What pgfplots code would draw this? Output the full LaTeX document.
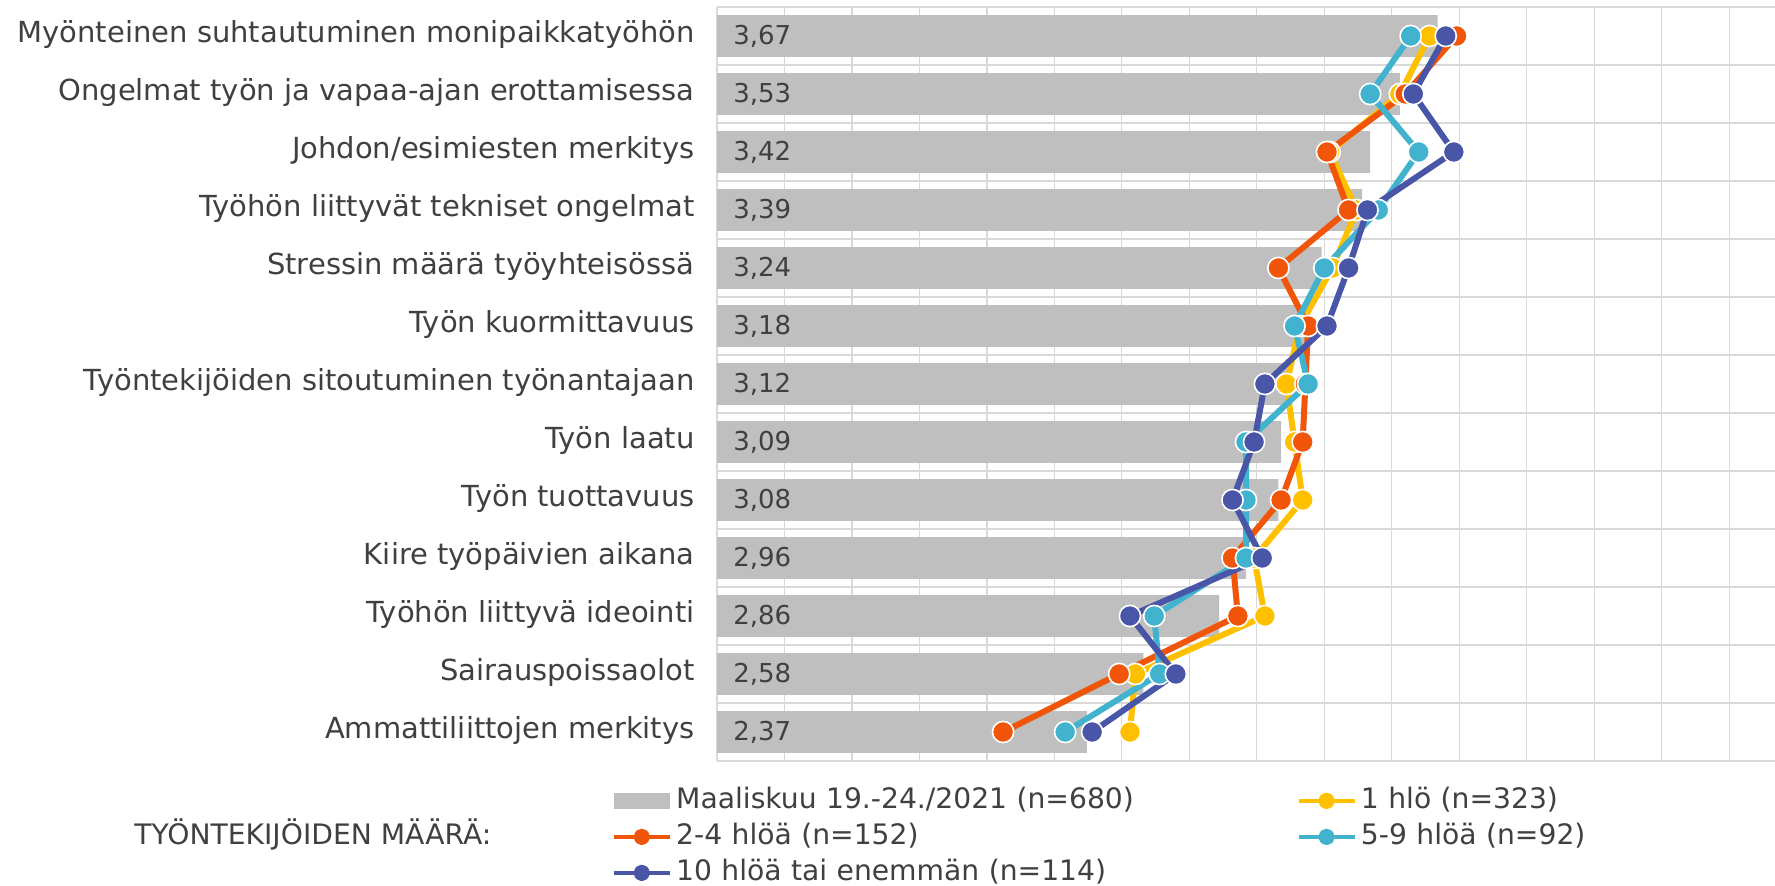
\documentclass[border=0pt]{standalone}
\usepackage{pgfplots}
\pgfplotsset{compat=1.18}
\usepackage{pgfplotstable}
\usepackage{fontspec}
\setmainfont{DejaVu Sans}
\definecolor{cYel}{HTML}{FFC000}
\definecolor{cOra}{HTML}{F0550A}
\definecolor{cCya}{HTML}{41B3CE}
\definecolor{cBlu}{HTML}{4955A7}
\definecolor{cBar}{HTML}{BFBFBF}
\definecolor{cTxt}{HTML}{404040}
\definecolor{cGrid}{HTML}{D9D9D9}

\pgfplotstableread{
y lx val yel ora cya blu
13 1 3.67 3.64 3.74 3.57 3.70
12 1 3.53 3.53 3.55 3.42 3.58
11 1 3.42 3.27 3.26 3.60 3.73
10 1 3.39 3.37 3.34 3.45 3.41
9 1 3.24 3.28 3.08 3.25 3.34
8 1 3.18 3.16 3.19 3.14 3.26
7 1 3.12 3.11 3.18 3.19 3.03
6 1 3.09 3.14 3.17 2.96 2.99
5 1 3.08 3.17 3.09 2.96 2.91
4 1 2.96 2.99 2.91 2.96 3.02
3 1 2.86 3.03 2.93 2.62 2.53
2 1 2.58 2.55 2.49 2.64 2.70
1 1 2.37 2.53 2.06 2.29 2.39
}\data

\pgfplotsset{
  linekey/.style={legend image code/.code={%
    \draw[#1, line width=2.4pt] (0pt,0pt) -- (28pt,0pt);
    \fill[#1] (14pt,0pt) circle (2.6pt);}},
  lineplot/.style={#1, line width=3pt, line join=round, mark=*, mark size=5.3pt,
    mark options={fill=#1, draw=white, line width=0.8pt}, linekey=#1},
}

\begin{document}
\begin{tikzpicture}
\useasboundingbox (0,0) rectangle (887.5pt,443pt);
\begin{axis}[
  at={(358.5pt,62.5pt)}, anchor=south west,
  scale only axis, width=529pt, height=377pt,
  xmin=1, xmax=4.92, ymin=0.5, ymax=13.5,
  xtick={1,1.25,...,4.8}, xticklabels={}, xmajorgrids,
  ytick={1,...,13},
  yticklabels={Ammattiliittojen merkitys, Sairauspoissaolot, Työhön liittyvä ideointi, Kiire työpäivien aikana, Työn tuottavuus, Työn laatu, Työntekijöiden sitoutuminen työnantajaan, Työn kuormittavuus, Stressin määrä työyhteisössä, Työhön liittyvät tekniset ongelmat, Johdon/esimiesten merkitys, Ongelmat työn ja vapaa-ajan erottamisessa, Myönteinen suhtautuminen monipaikkatyöhön},
  minor ytick={0.5,1.5,...,13.5}, yminorgrids,
  major tick length=0, minor tick length=0,
  grid style={cGrid, line width=0.6pt},
  minor grid style={cGrid, line width=0.8pt},
  axis line style={draw=none},
  yticklabel style={font=\fontsize{14.5}{17}\selectfont, text=cTxt, inner sep=0pt, xshift=-11pt, text height=10.5pt, text depth=3.8pt},
  legend columns=2,
  legend cell align=left,
  legend style={at={(-0.1002,-0.0345)}, anchor=north west, draw=none, fill=none,
    inner sep=0pt, column sep=2pt, row sep=4.5pt,
    font=\fontsize{14.1}{17}\selectfont, text=cTxt,
    nodes={inner sep=0pt, text height=10.5pt, text depth=3pt, text width=308pt, align=left}},
]
\addplot[xbar, bar width=20.8pt, bar shift=0pt, fill=cBar, draw=none,
  legend image code/.code={\fill[cBar] (0pt,-4pt) rectangle (28pt,4pt);}]
  table[x=val, y=y] {\data};
\addlegendentry{Maaliskuu 19.-24./2021 (n=680)}
\addplot[draw=none, mark=none, forget plot, point meta=explicit,
  nodes near coords={\pgfmathprintnumber[fixed,fixed zerofill,precision=2,use comma,assume math mode=true]{\pgfplotspointmeta}},
  nodes near coords align=horizontal,
  nodes near coords style={anchor=west, xshift=8pt, inner sep=0pt, text=cTxt, font=\fontsize{13}{15}\selectfont}]
  table[x=lx, y=y, meta=val] {\data};
\addplot[lineplot=cYel] table[x=yel, y=y] {\data};
\addlegendentry{1 hlö (n=323)}
\addplot[lineplot=cOra] table[x=ora, y=y] {\data};
\addlegendentry{2-4 hlöä (n=152)}
\addplot[lineplot=cCya] table[x=cya, y=y] {\data};
\addlegendentry{5-9 hlöä (n=92)}
\addplot[lineplot=cBlu] table[x=blu, y=y] {\data};
\addlegendentry{10 hlöä tai enemmän (n=114)}
\end{axis}
\node[anchor=base west, inner sep=0pt, text=cTxt, font=\fontsize{14.1}{17}\selectfont] at (67pt,20.8pt) {TYÖNTEKIJÖIDEN MÄÄRÄ:};
\end{tikzpicture}
\end{document}
